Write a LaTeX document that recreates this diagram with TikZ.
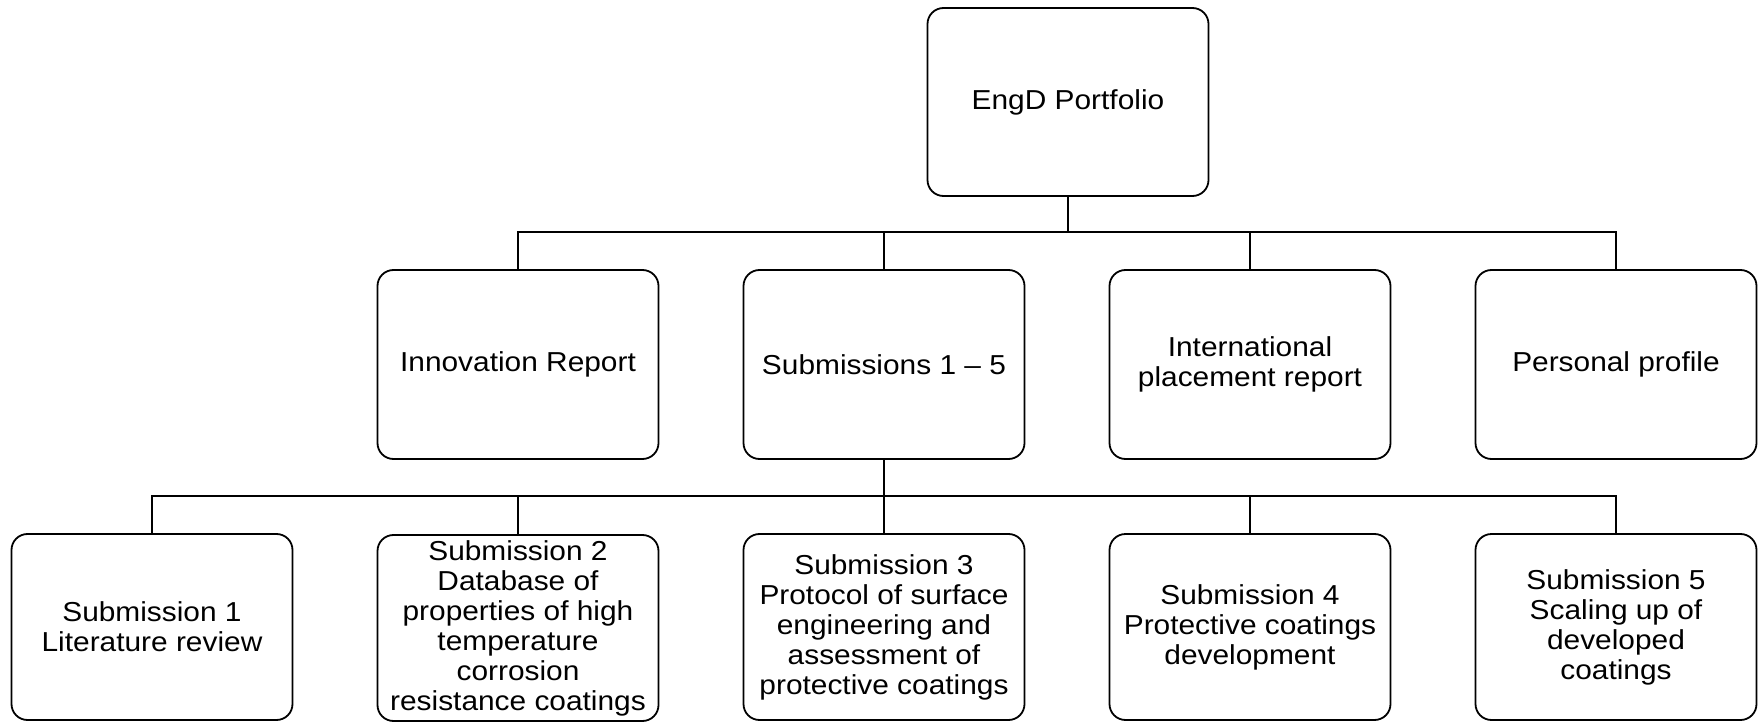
\documentclass[tikz,border=0pt]{standalone}
\usepackage{fontspec}
\setmainfont{Liberation Sans}[FakeStretch=1.09]
\begin{document}
\begin{tikzpicture}[x=0.5pt,y=-0.5pt,
  box/.style={draw, line width=0.9pt, rounded corners=8pt, minimum width=140.5pt,
    minimum height=94.5pt, align=center, inner sep=0pt,
    font=\fontsize{13.7}{15}\selectfont},
  lowbox/.style={box, minimum height=93pt},
  conn/.style={line width=0.9pt}]
\useasboundingbox (0,0) rectangle (1758,722);
% top
\node[box, minimum height=94pt] (top) at (1068,102) {EngD Portfolio};
% row 2
\node[box] (innov) at (518,364.5) {Innovation Report};
\node[box] (subs) at (884,364.5) {Submissions 1 – 5};
\node[box] (intl) at (1250,364.5) {International\\placement report};
\node[box] (pers) at (1616,364.5) {Personal profile};
% row 3
\node[lowbox] (s1) at (152,627) {Submission 1\\Literature review};
\node[lowbox] (s2) at (518,628) {Submission 2\\Database of\\properties of high\\temperature\\corrosion\\resistance coatings};
\node[lowbox] (s3) at (884,627) {Submission 3\\Protocol of surface\\engineering and\\assessment of\\protective coatings};
\node[lowbox] (s4) at (1250,627) {Submission 4\\Protective coatings\\development};
\node[lowbox] (s5) at (1616,627) {Submission 5\\Scaling up of\\developed\\coatings};
% buses
\coordinate (b1) at (1068,232);
\coordinate (b2) at (884,496);
\draw[conn] (top.south) -- (b1);
\foreach \n in {innov,subs,intl,pers} \draw[conn] (\n.north) |- (b1);
\draw[conn] (subs.south) -- (b2);
\foreach \n in {s1,s2,s3,s4,s5} \draw[conn] (\n.north) |- (b2);
\end{tikzpicture}
\end{document}
